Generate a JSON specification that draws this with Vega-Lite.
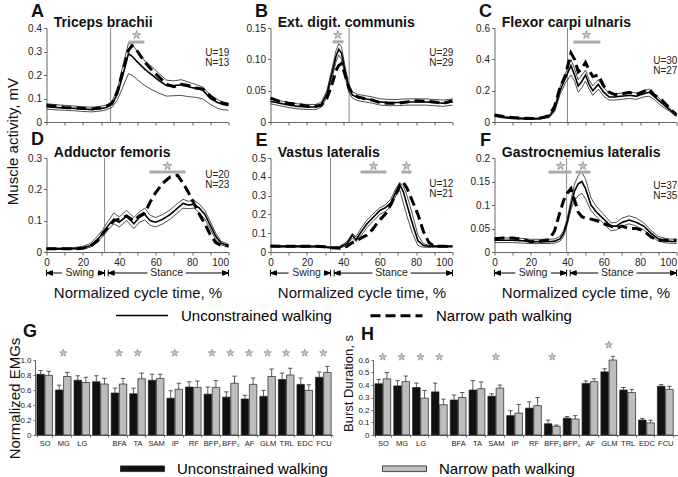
{
"$schema":"https://vega.github.io/schema/vega-lite/v6.json",
"padding":{"left":4,"top":3,"right":2,"bottom":2},
"config":{"font":"Liberation Sans","view":{"stroke":null},
"axis":{"grid":false,"labelFontSize":10,"labelColor":"#222","domainColor":"#666","tickColor":"#666","tickSize":3,"labelPadding":2,"labelFlush":false,"labelOverlap":false,"labelSeparation":-30,"titleFontWeight":"normal","titleFontSize":15,"titleColor":"#111"}},
"spacing":23,
"center":true,
"vconcat":[
{"spacing":11,"hconcat":[
{"bounds":"flush","spacing":36,"vconcat":[
{"width":182,"height":94,"resolve":{"axis":{"x":"independent","y":"independent"}},
"data":{"values":[{"x":0,"u":0.065,"hi":0.078,"lo":0.055,"n":0.07},{"x":5,"u":0.062,"hi":0.074,"lo":0.052,"n":0.068},{"x":10,"u":0.06,"hi":0.071,"lo":0.05,"n":0.062},{"x":15,"u":0.058,"hi":0.068,"lo":0.048,"n":0.06},{"x":20,"u":0.055,"hi":0.065,"lo":0.045,"n":0.058},{"x":25,"u":0.053,"hi":0.063,"lo":0.043,"n":0.055},{"x":30,"u":0.057,"hi":0.067,"lo":0.047,"n":0.06},{"x":33,"u":0.062,"hi":0.072,"lo":0.052,"n":0.067},{"x":36,"u":0.075,"hi":0.088,"lo":0.062,"n":0.08},{"x":39,"u":0.12,"hi":0.14,"lo":0.095,"n":0.13},{"x":42,"u":0.2,"hi":0.24,"lo":0.15,"n":0.22},{"x":45,"u":0.29,"hi":0.335,"lo":0.205,"n":0.305},{"x":47,"u":0.28,"hi":0.33,"lo":0.2,"n":0.325},{"x":50,"u":0.255,"hi":0.3,"lo":0.18,"n":0.3},{"x":54,"u":0.225,"hi":0.26,"lo":0.155,"n":0.255},{"x":58,"u":0.2,"hi":0.235,"lo":0.137,"n":0.22},{"x":62,"u":0.175,"hi":0.205,"lo":0.122,"n":0.19},{"x":66,"u":0.155,"hi":0.178,"lo":0.11,"n":0.16},{"x":70,"u":0.155,"hi":0.175,"lo":0.112,"n":0.15},{"x":74,"u":0.158,"hi":0.18,"lo":0.113,"n":0.16},{"x":78,"u":0.15,"hi":0.17,"lo":0.108,"n":0.155},{"x":82,"u":0.143,"hi":0.16,"lo":0.105,"n":0.145},{"x":86,"u":0.135,"hi":0.148,"lo":0.098,"n":0.14},{"x":90,"u":0.1,"hi":0.115,"lo":0.075,"n":0.11},{"x":94,"u":0.083,"hi":0.095,"lo":0.058,"n":0.088},{"x":97,"u":0.075,"hi":0.085,"lo":0.052,"n":0.08},{"x":100,"u":0.07,"hi":0.08,"lo":0.05,"n":0.075}]},
"layer":[
{"mark":{"type":"line","color":"#222","strokeWidth":0.8},"encoding":{"x":{"field":"x","type":"quantitative","scale":{"domain":[0,100],"nice":false},"axis":{"values":[0,10,20,30,40,50,60,70,80,90,100],"labels":false,"title":null,"labelOverlap":false}},"y":{"field":"hi","type":"quantitative","scale":{"domain":[0,0.4],"nice":false},"axis":{"values":[0,0.1,0.2,0.3,0.4],"format":"~g","title":null,"labelOverlap":false}}}},
{"data":{"values":[{}]},"mark":{"type":"rule","color":"#888","strokeWidth":1},"encoding":{"x":{"datum":35.2,"type":"quantitative","axis":null},"y":{"datum":0,"type":"quantitative","axis":null},"y2":{"datum":0.4}}},
{"mark":{"type":"line","color":"#222","strokeWidth":0.8},"encoding":{"x":{"field":"x","type":"quantitative","axis":null},"y":{"field":"lo","type":"quantitative","axis":null}}},
{"transform":[{"fold":["u","n"],"as":["series","v"]}],"mark":{"type":"line","color":"black"},"encoding":{"x":{"field":"x","type":"quantitative","axis":null},"y":{"field":"v","type":"quantitative","axis":null},
"strokeDash":{"field":"series","type":"nominal","scale":{"domain":["u","n"],"range":[[1,0],[10,5]]},"legend":{"orient":"none","legendX":80,"legendY":260,"direction":"horizontal","title":null,"symbolType":"stroke","symbolSize":2704,"symbolStrokeColor":"black","labelFontSize":15,"labelColor":"black","labelOffset":12,"columnPadding":32,"labelLimit":300,"labelExpr":"datum.value == 'u' ? 'Unconstrained walking' : 'Narrow path walking'"}},
"strokeWidth":{"field":"series","type":"nominal","scale":{"domain":["u","n"],"range":[1.6,3]},"legend":{"orient":"none","legendX":80,"legendY":260,"direction":"horizontal","title":null,"symbolType":"stroke","symbolSize":2704,"symbolStrokeColor":"black","labelFontSize":15,"labelColor":"black","labelOffset":12,"columnPadding":32,"labelLimit":300,"labelExpr":"datum.value == 'u' ? 'Unconstrained walking' : 'Narrow path walking'"}}}},
{"data":{"values":[{"x":45,"x2":53.8}]},"mark":{"type":"rule","color":"#aaa","strokeWidth":3},"encoding":{"x":{"field":"x","type":"quantitative","axis":null},"x2":{"field":"x2"},"y":{"datum":0.34,"type":"quantitative","axis":null}}},
{"data":{"values":[{"x":49.5}]},"mark":{"type":"point","shape":"M0,-1L0.2245,-0.309L0.951,-0.309L0.363,0.118L0.588,0.809L0,0.382L-0.588,0.809L-0.363,0.118L-0.951,-0.309L-0.2245,-0.309Z","size":80,"filled":true,"fill":"#c8c8c8","stroke":"#888","strokeWidth":0.7,"opacity":1},"encoding":{"x":{"field":"x","type":"quantitative","axis":null},"y":{"datum":0.37,"type":"quantitative","axis":null}}},
{"data":{"values":[{}]},"mark":{"type":"text","text":["U=19","N=13"],"align":"right","baseline":"alphabetic","fontSize":10,"lineHeight":10,"color":"#222"},"encoding":{"x":{"datum":100.5,"type":"quantitative","axis":null},"y":{"datum":0.282,"type":"quantitative","axis":null}}},
{"data":{"values":[{}]},"mark":{"type":"text","text":"Triceps brachii","align":"left","baseline":"alphabetic","fontSize":14,"fontWeight":"bold","color":"#111"},"encoding":{"x":{"datum":4,"type":"quantitative","axis":null},"y":{"datum":0.404,"type":"quantitative","axis":null}}},
{"data":{"values":[{}]},"mark":{"type":"text","text":"A","align":"center","baseline":"middle","fontSize":18,"fontWeight":"bold","color":"#111"},"encoding":{"x":{"datum":-5,"type":"quantitative","axis":null},"y":{"datum":0.468,"type":"quantitative","axis":null}}}
]},
{"width":182,"height":94,"resolve":{"axis":{"x":"independent","y":"independent"}},
"data":{"values":[{"x":0,"u":0.01,"hi":0.013,"lo":0.008,"n":0.01},{"x":5,"u":0.01,"hi":0.013,"lo":0.008,"n":0.01},{"x":10,"u":0.01,"hi":0.013,"lo":0.008,"n":0.01},{"x":15,"u":0.011,"hi":0.014,"lo":0.009,"n":0.01},{"x":20,"u":0.013,"hi":0.018,"lo":0.01,"n":0.012},{"x":24,"u":0.02,"hi":0.027,"lo":0.015,"n":0.018},{"x":28,"u":0.04,"hi":0.05,"lo":0.032,"n":0.035},{"x":31,"u":0.06,"hi":0.072,"lo":0.05,"n":0.06},{"x":34,"u":0.085,"hi":0.1,"lo":0.072,"n":0.08},{"x":37,"u":0.105,"hi":0.125,"lo":0.09,"n":0.1},{"x":40,"u":0.095,"hi":0.112,"lo":0.08,"n":0.105},{"x":44,"u":0.115,"hi":0.133,"lo":0.1,"n":0.115},{"x":48,"u":0.09,"hi":0.11,"lo":0.075,"n":0.1},{"x":51,"u":0.11,"hi":0.128,"lo":0.095,"n":0.115},{"x":54,"u":0.12,"hi":0.14,"lo":0.102,"n":0.125},{"x":57,"u":0.1,"hi":0.117,"lo":0.085,"n":0.16},{"x":60,"u":0.095,"hi":0.11,"lo":0.08,"n":0.19},{"x":64,"u":0.105,"hi":0.12,"lo":0.09,"n":0.22},{"x":68,"u":0.12,"hi":0.135,"lo":0.105,"n":0.24},{"x":72,"u":0.14,"hi":0.155,"lo":0.125,"n":0.245},{"x":75,"u":0.155,"hi":0.168,"lo":0.14,"n":0.22},{"x":78,"u":0.15,"hi":0.162,"lo":0.138,"n":0.19},{"x":81,"u":0.152,"hi":0.165,"lo":0.14,"n":0.155},{"x":84,"u":0.14,"hi":0.153,"lo":0.125,"n":0.12},{"x":87,"u":0.12,"hi":0.133,"lo":0.105,"n":0.09},{"x":90,"u":0.085,"hi":0.097,"lo":0.073,"n":0.055},{"x":93,"u":0.05,"hi":0.06,"lo":0.04,"n":0.03},{"x":96,"u":0.028,"hi":0.034,"lo":0.022,"n":0.02},{"x":100,"u":0.02,"hi":0.024,"lo":0.016,"n":0.02}]},
"layer":[
{"mark":{"type":"line","color":"#222","strokeWidth":0.8},"encoding":{"x":{"field":"x","type":"quantitative","scale":{"domain":[0,100],"nice":false},"axis":{"values":[0,10,20,30,40,50,60,70,80,90,100],"labelExpr":"datum.value % 20 == 0 ? datum.label : ''","labelAlign":{"condition":{"test":"datum.value == 100","value":"right"},"value":"center"},"labelOverlap":false,"title":"Normalized cycle time, %","titleX":91,"titleY":45,"titleBaseline":"alphabetic"}},"y":{"field":"hi","type":"quantitative","scale":{"domain":[0,0.3],"nice":false},"axis":{"values":[0,0.1,0.2,0.3],"format":"~g","labelOverlap":false,"title":"Muscle activity, mV","titleX":-34.5,"titleY":-17,"titleAngle":270,"titleBaseline":"middle","titleAlign":"center"}}}},
{"data":{"values":[{}]},"mark":{"type":"rule","color":"#888","strokeWidth":1},"encoding":{"x":{"datum":31.9,"type":"quantitative","axis":null},"y":{"datum":0,"type":"quantitative","axis":null},"y2":{"datum":0.3}}},
{"mark":{"type":"line","color":"#222","strokeWidth":0.8},"encoding":{"x":{"field":"x","type":"quantitative","axis":null},"y":{"field":"lo","type":"quantitative","axis":null}}},
{"transform":[{"fold":["u","n"],"as":["series","v"]}],"mark":{"type":"line","color":"black"},"encoding":{"x":{"field":"x","type":"quantitative","axis":null},"y":{"field":"v","type":"quantitative","axis":null},
"strokeDash":{"field":"series","type":"nominal","scale":{"domain":["u","n"],"range":[[1,0],[10,5]]},"legend":{"orient":"none","legendX":80,"legendY":260,"direction":"horizontal","title":null,"symbolType":"stroke","symbolSize":2704,"symbolStrokeColor":"black","labelFontSize":15,"labelColor":"black","labelOffset":12,"columnPadding":32,"labelLimit":300,"labelExpr":"datum.value == 'u' ? 'Unconstrained walking' : 'Narrow path walking'"}},
"strokeWidth":{"field":"series","type":"nominal","scale":{"domain":["u","n"],"range":[1.6,3]},"legend":{"orient":"none","legendX":80,"legendY":260,"direction":"horizontal","title":null,"symbolType":"stroke","symbolSize":2704,"symbolStrokeColor":"black","labelFontSize":15,"labelColor":"black","labelOffset":12,"columnPadding":32,"labelLimit":300,"labelExpr":"datum.value == 'u' ? 'Unconstrained walking' : 'Narrow path walking'"}}}},
{"data":{"values":[{"x":56.6,"x2":76.4}]},"mark":{"type":"rule","color":"#aaa","strokeWidth":3},"encoding":{"x":{"field":"x","type":"quantitative","axis":null},"x2":{"field":"x2"},"y":{"datum":0.255,"type":"quantitative","axis":null}}},
{"data":{"values":[{"x":66.5}]},"mark":{"type":"point","shape":"M0,-1L0.2245,-0.309L0.951,-0.309L0.363,0.118L0.588,0.809L0,0.382L-0.588,0.809L-0.363,0.118L-0.951,-0.309L-0.2245,-0.309Z","size":80,"filled":true,"fill":"#c8c8c8","stroke":"#888","strokeWidth":0.7,"opacity":1},"encoding":{"x":{"field":"x","type":"quantitative","axis":null},"y":{"datum":0.2745,"type":"quantitative","axis":null}}},
{"data":{"values":[{}]},"mark":{"type":"text","text":["U=20","N=23"],"align":"right","baseline":"alphabetic","fontSize":10,"lineHeight":10,"color":"#222"},"encoding":{"x":{"datum":100.5,"type":"quantitative","axis":null},"y":{"datum":0.237,"type":"quantitative","axis":null}}},
{"data":{"values":[{}]},"mark":{"type":"text","text":"Adductor femoris","align":"left","baseline":"alphabetic","fontSize":14,"fontWeight":"bold","color":"#111"},"encoding":{"x":{"datum":4,"type":"quantitative","axis":null},"y":{"datum":0.303,"type":"quantitative","axis":null}}},
{"data":{"values":[{}]},"mark":{"type":"text","text":"D","align":"center","baseline":"middle","fontSize":18,"fontWeight":"bold","color":"#111"},"encoding":{"x":{"datum":-5,"type":"quantitative","axis":null},"y":{"datum":0.356,"type":"quantitative","axis":null}}},
{"data":{"values":[{"x":0,"x2":8.5},{"x":28,"x2":31.9},{"x":33.9,"x2":55.5},{"x":76.5,"x2":100}]},"mark":{"type":"rule","color":"black","strokeWidth":1},"encoding":{"x":{"field":"x","type":"quantitative","axis":null},"x2":{"field":"x2"},"y":{"datum":-0.067,"type":"quantitative","axis":null}}},
{"data":{"values":[{"x":0,"dir":"L"},{"x":31.9,"dir":"R"},{"x":33.9,"dir":"L"},{"x":100,"dir":"R"}]},"mark":{"type":"point","filled":true,"color":"black","stroke":"black","strokeWidth":1,"size":36,"opacity":1},"encoding":{"x":{"field":"x","type":"quantitative","axis":null},"y":{"datum":-0.067,"type":"quantitative","axis":null},"shape":{"field":"dir","type":"nominal","scale":{"domain":["L","R"],"range":["M0,-1.1L0,1.1M0,0L2,-0.75L2,0.75Z","M0,-1.1L0,1.1M0,0L-2,-0.75L-2,0.75Z"]},"legend":null}}},
{"data":{"values":[{"t":"Swing","x":18.3},{"t":"Stance","x":66}]},"mark":{"type":"text","fontSize":10.5,"baseline":"middle","align":"center","color":"#222"},"encoding":{"x":{"field":"x","type":"quantitative","axis":null},"y":{"datum":-0.067,"type":"quantitative","axis":null},"text":{"field":"t"}}}
]}
]},
{"bounds":"flush","spacing":36,"vconcat":[
{"width":182,"height":94,"resolve":{"axis":{"x":"independent","y":"independent"}},
"data":{"values":[{"x":0,"u":0.033,"hi":0.037,"lo":0.029,"n":0.038},{"x":5,"u":0.03,"hi":0.034,"lo":0.026,"n":0.033},{"x":10,"u":0.027,"hi":0.031,"lo":0.023,"n":0.03},{"x":15,"u":0.025,"hi":0.029,"lo":0.021,"n":0.028},{"x":20,"u":0.024,"hi":0.028,"lo":0.02,"n":0.025},{"x":25,"u":0.024,"hi":0.028,"lo":0.02,"n":0.025},{"x":28,"u":0.028,"hi":0.032,"lo":0.024,"n":0.027},{"x":31,"u":0.045,"hi":0.05,"lo":0.04,"n":0.038},{"x":34,"u":0.08,"hi":0.088,"lo":0.072,"n":0.062},{"x":36,"u":0.105,"hi":0.114,"lo":0.096,"n":0.082},{"x":37.5,"u":0.116,"hi":0.125,"lo":0.107,"n":0.09},{"x":39,"u":0.11,"hi":0.12,"lo":0.1,"n":0.093},{"x":41,"u":0.08,"hi":0.088,"lo":0.072,"n":0.075},{"x":43,"u":0.055,"hi":0.062,"lo":0.048,"n":0.055},{"x":45,"u":0.043,"hi":0.048,"lo":0.038,"n":0.045},{"x":48,"u":0.039,"hi":0.044,"lo":0.034,"n":0.04},{"x":52,"u":0.037,"hi":0.042,"lo":0.032,"n":0.037},{"x":56,"u":0.035,"hi":0.04,"lo":0.03,"n":0.035},{"x":60,"u":0.032,"hi":0.037,"lo":0.027,"n":0.031},{"x":65,"u":0.031,"hi":0.036,"lo":0.026,"n":0.03},{"x":70,"u":0.031,"hi":0.036,"lo":0.026,"n":0.03},{"x":75,"u":0.032,"hi":0.037,"lo":0.027,"n":0.032},{"x":80,"u":0.032,"hi":0.037,"lo":0.027,"n":0.034},{"x":85,"u":0.032,"hi":0.037,"lo":0.027,"n":0.033},{"x":90,"u":0.031,"hi":0.036,"lo":0.026,"n":0.032},{"x":95,"u":0.03,"hi":0.035,"lo":0.025,"n":0.03},{"x":100,"u":0.032,"hi":0.037,"lo":0.027,"n":0.034}]},
"layer":[
{"mark":{"type":"line","color":"#222","strokeWidth":0.8},"encoding":{"x":{"field":"x","type":"quantitative","scale":{"domain":[0,100],"nice":false},"axis":{"values":[0,10,20,30,40,50,60,70,80,90,100],"labels":false,"title":null,"labelOverlap":false}},"y":{"field":"hi","type":"quantitative","scale":{"domain":[0,0.15],"nice":false},"axis":{"values":[0,0.05,0.1,0.15],"format":".2f","labelExpr":"datum.value == 0 ? '0' : datum.label","title":null,"labelOverlap":false}}}},
{"data":{"values":[{}]},"mark":{"type":"rule","color":"#888","strokeWidth":1},"encoding":{"x":{"datum":43.2,"type":"quantitative","axis":null},"y":{"datum":0,"type":"quantitative","axis":null},"y2":{"datum":0.15}}},
{"mark":{"type":"line","color":"#222","strokeWidth":0.8},"encoding":{"x":{"field":"x","type":"quantitative","axis":null},"y":{"field":"lo","type":"quantitative","axis":null}}},
{"transform":[{"fold":["u","n"],"as":["series","v"]}],"mark":{"type":"line","color":"black"},"encoding":{"x":{"field":"x","type":"quantitative","axis":null},"y":{"field":"v","type":"quantitative","axis":null},
"strokeDash":{"field":"series","type":"nominal","scale":{"domain":["u","n"],"range":[[1,0],[10,5]]},"legend":{"orient":"none","legendX":80,"legendY":260,"direction":"horizontal","title":null,"symbolType":"stroke","symbolSize":2704,"symbolStrokeColor":"black","labelFontSize":15,"labelColor":"black","labelOffset":12,"columnPadding":32,"labelLimit":300,"labelExpr":"datum.value == 'u' ? 'Unconstrained walking' : 'Narrow path walking'"}},
"strokeWidth":{"field":"series","type":"nominal","scale":{"domain":["u","n"],"range":[1.6,3]},"legend":{"orient":"none","legendX":80,"legendY":260,"direction":"horizontal","title":null,"symbolType":"stroke","symbolSize":2704,"symbolStrokeColor":"black","labelFontSize":15,"labelColor":"black","labelOffset":12,"columnPadding":32,"labelLimit":300,"labelExpr":"datum.value == 'u' ? 'Unconstrained walking' : 'Narrow path walking'"}}}},
{"data":{"values":[{"x":34.1,"x2":40.1}]},"mark":{"type":"rule","color":"#aaa","strokeWidth":3},"encoding":{"x":{"field":"x","type":"quantitative","axis":null},"x2":{"field":"x2"},"y":{"datum":0.128,"type":"quantitative","axis":null}}},
{"data":{"values":[{"x":37}]},"mark":{"type":"point","shape":"M0,-1L0.2245,-0.309L0.951,-0.309L0.363,0.118L0.588,0.809L0,0.382L-0.588,0.809L-0.363,0.118L-0.951,-0.309L-0.2245,-0.309Z","size":80,"filled":true,"fill":"#c8c8c8","stroke":"#888","strokeWidth":0.7,"opacity":1},"encoding":{"x":{"field":"x","type":"quantitative","axis":null},"y":{"datum":0.139,"type":"quantitative","axis":null}}},
{"data":{"values":[{}]},"mark":{"type":"text","text":["U=29","N=29"],"align":"right","baseline":"alphabetic","fontSize":10,"lineHeight":10,"color":"#222"},"encoding":{"x":{"datum":100.5,"type":"quantitative","axis":null},"y":{"datum":0.106,"type":"quantitative","axis":null}}},
{"data":{"values":[{}]},"mark":{"type":"text","text":"Ext. digit. communis","align":"left","baseline":"alphabetic","fontSize":14,"fontWeight":"bold","color":"#111"},"encoding":{"x":{"datum":4,"type":"quantitative","axis":null},"y":{"datum":0.1515,"type":"quantitative","axis":null}}},
{"data":{"values":[{}]},"mark":{"type":"text","text":"B","align":"center","baseline":"middle","fontSize":18,"fontWeight":"bold","color":"#111"},"encoding":{"x":{"datum":-5,"type":"quantitative","axis":null},"y":{"datum":0.1755,"type":"quantitative","axis":null}}}
]},
{"width":182,"height":94,"resolve":{"axis":{"x":"independent","y":"independent"}},
"data":{"values":[{"x":0,"u":0.03,"hi":0.035,"lo":0.026,"n":0.032},{"x":5,"u":0.03,"hi":0.034,"lo":0.026,"n":0.03},{"x":10,"u":0.03,"hi":0.034,"lo":0.026,"n":0.031},{"x":15,"u":0.03,"hi":0.034,"lo":0.026,"n":0.03},{"x":20,"u":0.029,"hi":0.033,"lo":0.025,"n":0.03},{"x":25,"u":0.029,"hi":0.033,"lo":0.025,"n":0.03},{"x":30,"u":0.027,"hi":0.031,"lo":0.023,"n":0.028},{"x":34,"u":0.022,"hi":0.026,"lo":0.019,"n":0.022},{"x":38,"u":0.025,"hi":0.03,"lo":0.02,"n":0.02},{"x":42,"u":0.045,"hi":0.055,"lo":0.035,"n":0.03},{"x":45,"u":0.09,"hi":0.1,"lo":0.075,"n":0.05},{"x":47,"u":0.065,"hi":0.08,"lo":0.055,"n":0.06},{"x":50,"u":0.11,"hi":0.13,"lo":0.09,"n":0.075},{"x":53,"u":0.15,"hi":0.17,"lo":0.13,"n":0.09},{"x":56,"u":0.18,"hi":0.2,"lo":0.16,"n":0.12},{"x":60,"u":0.22,"hi":0.235,"lo":0.2,"n":0.17},{"x":63,"u":0.235,"hi":0.25,"lo":0.215,"n":0.2},{"x":66,"u":0.26,"hi":0.28,"lo":0.24,"n":0.25},{"x":69,"u":0.32,"hi":0.34,"lo":0.3,"n":0.31},{"x":71,"u":0.36,"hi":0.37,"lo":0.33,"n":0.35},{"x":73,"u":0.32,"hi":0.35,"lo":0.26,"n":0.37},{"x":75,"u":0.25,"hi":0.3,"lo":0.19,"n":0.34},{"x":78,"u":0.15,"hi":0.2,"lo":0.1,"n":0.27},{"x":81,"u":0.06,"hi":0.09,"lo":0.035,"n":0.2},{"x":84,"u":0.035,"hi":0.045,"lo":0.025,"n":0.11},{"x":87,"u":0.03,"hi":0.035,"lo":0.025,"n":0.05},{"x":90,"u":0.03,"hi":0.034,"lo":0.026,"n":0.03},{"x":95,"u":0.03,"hi":0.034,"lo":0.026,"n":0.03},{"x":100,"u":0.03,"hi":0.034,"lo":0.026,"n":0.028}]},
"layer":[
{"mark":{"type":"line","color":"#222","strokeWidth":0.8},"encoding":{"x":{"field":"x","type":"quantitative","scale":{"domain":[0,100],"nice":false},"axis":{"values":[0,10,20,30,40,50,60,70,80,90,100],"labelExpr":"datum.value % 20 == 0 ? datum.label : ''","labelAlign":{"condition":{"test":"datum.value == 100","value":"right"},"value":"center"},"labelOverlap":false,"title":"Normalized cycle time, %","titleX":91,"titleY":45,"titleBaseline":"alphabetic"}},"y":{"field":"hi","type":"quantitative","scale":{"domain":[0,0.5],"nice":false},"axis":{"values":[0,0.1,0.2,0.3,0.4,0.5],"format":"~g","title":null,"labelOverlap":false}}}},
{"data":{"values":[{}]},"mark":{"type":"rule","color":"#888","strokeWidth":1},"encoding":{"x":{"datum":33,"type":"quantitative","axis":null},"y":{"datum":0,"type":"quantitative","axis":null},"y2":{"datum":0.5}}},
{"mark":{"type":"line","color":"#222","strokeWidth":0.8},"encoding":{"x":{"field":"x","type":"quantitative","axis":null},"y":{"field":"lo","type":"quantitative","axis":null}}},
{"transform":[{"fold":["u","n"],"as":["series","v"]}],"mark":{"type":"line","color":"black"},"encoding":{"x":{"field":"x","type":"quantitative","axis":null},"y":{"field":"v","type":"quantitative","axis":null},
"strokeDash":{"field":"series","type":"nominal","scale":{"domain":["u","n"],"range":[[1,0],[10,5]]},"legend":{"orient":"none","legendX":80,"legendY":260,"direction":"horizontal","title":null,"symbolType":"stroke","symbolSize":2704,"symbolStrokeColor":"black","labelFontSize":15,"labelColor":"black","labelOffset":12,"columnPadding":32,"labelLimit":300,"labelExpr":"datum.value == 'u' ? 'Unconstrained walking' : 'Narrow path walking'"}},
"strokeWidth":{"field":"series","type":"nominal","scale":{"domain":["u","n"],"range":[1.6,3]},"legend":{"orient":"none","legendX":80,"legendY":260,"direction":"horizontal","title":null,"symbolType":"stroke","symbolSize":2704,"symbolStrokeColor":"black","labelFontSize":15,"labelColor":"black","labelOffset":12,"columnPadding":32,"labelLimit":300,"labelExpr":"datum.value == 'u' ? 'Unconstrained walking' : 'Narrow path walking'"}}}},
{"data":{"values":[{"x":49.5,"x2":63.7},{"x":72,"x2":77.5}]},"mark":{"type":"rule","color":"#aaa","strokeWidth":3},"encoding":{"x":{"field":"x","type":"quantitative","axis":null},"x2":{"field":"x2"},"y":{"datum":0.4255,"type":"quantitative","axis":null}}},
{"data":{"values":[{"x":56.6},{"x":74.7}]},"mark":{"type":"point","shape":"M0,-1L0.2245,-0.309L0.951,-0.309L0.363,0.118L0.588,0.809L0,0.382L-0.588,0.809L-0.363,0.118L-0.951,-0.309L-0.2245,-0.309Z","size":80,"filled":true,"fill":"#c8c8c8","stroke":"#888","strokeWidth":0.7,"opacity":1},"encoding":{"x":{"field":"x","type":"quantitative","axis":null},"y":{"datum":0.4575,"type":"quantitative","axis":null}}},
{"data":{"values":[{}]},"mark":{"type":"text","text":["U=12","N=21"],"align":"right","baseline":"alphabetic","fontSize":10,"lineHeight":10,"color":"#222"},"encoding":{"x":{"datum":100.5,"type":"quantitative","axis":null},"y":{"datum":0.346,"type":"quantitative","axis":null}}},
{"data":{"values":[{}]},"mark":{"type":"text","text":"Vastus lateralis","align":"left","baseline":"alphabetic","fontSize":14,"fontWeight":"bold","color":"#111"},"encoding":{"x":{"datum":4,"type":"quantitative","axis":null},"y":{"datum":0.505,"type":"quantitative","axis":null}}},
{"data":{"values":[{}]},"mark":{"type":"text","text":"E","align":"center","baseline":"middle","fontSize":18,"fontWeight":"bold","color":"#111"},"encoding":{"x":{"datum":-5,"type":"quantitative","axis":null},"y":{"datum":0.593,"type":"quantitative","axis":null}}},
{"data":{"values":[{"x":0,"x2":10},{"x":29.5,"x2":33},{"x":35,"x2":56},{"x":77,"x2":100}]},"mark":{"type":"rule","color":"black","strokeWidth":1},"encoding":{"x":{"field":"x","type":"quantitative","axis":null},"x2":{"field":"x2"},"y":{"datum":-0.112,"type":"quantitative","axis":null}}},
{"data":{"values":[{"x":0,"dir":"L"},{"x":33,"dir":"R"},{"x":35,"dir":"L"},{"x":100,"dir":"R"}]},"mark":{"type":"point","filled":true,"color":"black","stroke":"black","strokeWidth":1,"size":36,"opacity":1},"encoding":{"x":{"field":"x","type":"quantitative","axis":null},"y":{"datum":-0.112,"type":"quantitative","axis":null},"shape":{"field":"dir","type":"nominal","scale":{"domain":["L","R"],"range":["M0,-1.1L0,1.1M0,0L2,-0.75L2,0.75Z","M0,-1.1L0,1.1M0,0L-2,-0.75L-2,0.75Z"]},"legend":null}}},
{"data":{"values":[{"t":"Swing","x":19.8},{"t":"Stance","x":66.5}]},"mark":{"type":"text","fontSize":10.5,"baseline":"middle","align":"center","color":"#222"},"encoding":{"x":{"field":"x","type":"quantitative","axis":null},"y":{"datum":-0.112,"type":"quantitative","axis":null},"text":{"field":"t"}}}
]}
]},
{"bounds":"flush","spacing":36,"vconcat":[
{"width":182,"height":94,"resolve":{"axis":{"x":"independent","y":"independent"}},
"data":{"values":[{"x":0,"u":0.04,"hi":0.045,"lo":0.035,"n":0.045},{"x":5,"u":0.03,"hi":0.035,"lo":0.025,"n":0.035},{"x":10,"u":0.025,"hi":0.03,"lo":0.02,"n":0.028},{"x":15,"u":0.022,"hi":0.027,"lo":0.018,"n":0.025},{"x":20,"u":0.02,"hi":0.025,"lo":0.016,"n":0.022},{"x":25,"u":0.022,"hi":0.027,"lo":0.018,"n":0.025},{"x":30,"u":0.035,"hi":0.042,"lo":0.028,"n":0.04},{"x":33,"u":0.08,"hi":0.095,"lo":0.065,"n":0.1},{"x":36,"u":0.2,"hi":0.225,"lo":0.175,"n":0.22},{"x":39,"u":0.28,"hi":0.31,"lo":0.25,"n":0.3},{"x":42,"u":0.36,"hi":0.4,"lo":0.3,"n":0.44},{"x":44,"u":0.3,"hi":0.34,"lo":0.26,"n":0.4},{"x":46,"u":0.23,"hi":0.27,"lo":0.19,"n":0.32},{"x":48,"u":0.26,"hi":0.3,"lo":0.22,"n":0.34},{"x":50,"u":0.3,"hi":0.33,"lo":0.26,"n":0.38},{"x":52,"u":0.24,"hi":0.27,"lo":0.21,"n":0.33},{"x":54,"u":0.2,"hi":0.23,"lo":0.17,"n":0.29},{"x":57,"u":0.24,"hi":0.27,"lo":0.21,"n":0.3},{"x":60,"u":0.19,"hi":0.22,"lo":0.165,"n":0.23},{"x":63,"u":0.16,"hi":0.185,"lo":0.14,"n":0.19},{"x":66,"u":0.16,"hi":0.18,"lo":0.14,"n":0.175},{"x":70,"u":0.165,"hi":0.185,"lo":0.145,"n":0.18},{"x":74,"u":0.17,"hi":0.19,"lo":0.15,"n":0.19},{"x":78,"u":0.165,"hi":0.185,"lo":0.145,"n":0.175},{"x":82,"u":0.18,"hi":0.2,"lo":0.16,"n":0.195},{"x":85,"u":0.19,"hi":0.21,"lo":0.165,"n":0.21},{"x":88,"u":0.16,"hi":0.18,"lo":0.14,"n":0.17},{"x":92,"u":0.12,"hi":0.135,"lo":0.1,"n":0.14},{"x":96,"u":0.08,"hi":0.09,"lo":0.07,"n":0.09},{"x":100,"u":0.04,"hi":0.045,"lo":0.035,"n":0.045}]},
"layer":[
{"mark":{"type":"line","color":"#222","strokeWidth":0.8},"encoding":{"x":{"field":"x","type":"quantitative","scale":{"domain":[0,100],"nice":false},"axis":{"values":[0,10,20,30,40,50,60,70,80,90,100],"labels":false,"title":null,"labelOverlap":false}},"y":{"field":"hi","type":"quantitative","scale":{"domain":[0,0.6],"nice":false},"axis":{"values":[0,0.2,0.4,0.6],"format":"~g","title":null,"labelOverlap":false}}}},
{"data":{"values":[{}]},"mark":{"type":"rule","color":"#888","strokeWidth":1},"encoding":{"x":{"datum":40.1,"type":"quantitative","axis":null},"y":{"datum":0,"type":"quantitative","axis":null},"y2":{"datum":0.6}}},
{"mark":{"type":"line","color":"#222","strokeWidth":0.8},"encoding":{"x":{"field":"x","type":"quantitative","axis":null},"y":{"field":"lo","type":"quantitative","axis":null}}},
{"transform":[{"fold":["u","n"],"as":["series","v"]}],"mark":{"type":"line","color":"black"},"encoding":{"x":{"field":"x","type":"quantitative","axis":null},"y":{"field":"v","type":"quantitative","axis":null},
"strokeDash":{"field":"series","type":"nominal","scale":{"domain":["u","n"],"range":[[1,0],[10,5]]},"legend":{"orient":"none","legendX":80,"legendY":260,"direction":"horizontal","title":null,"symbolType":"stroke","symbolSize":2704,"symbolStrokeColor":"black","labelFontSize":15,"labelColor":"black","labelOffset":12,"columnPadding":32,"labelLimit":300,"labelExpr":"datum.value == 'u' ? 'Unconstrained walking' : 'Narrow path walking'"}},
"strokeWidth":{"field":"series","type":"nominal","scale":{"domain":["u","n"],"range":[1.6,3]},"legend":{"orient":"none","legendX":80,"legendY":260,"direction":"horizontal","title":null,"symbolType":"stroke","symbolSize":2704,"symbolStrokeColor":"black","labelFontSize":15,"labelColor":"black","labelOffset":12,"columnPadding":32,"labelLimit":300,"labelExpr":"datum.value == 'u' ? 'Unconstrained walking' : 'Narrow path walking'"}}}},
{"data":{"values":[{"x":43.4,"x2":58.2}]},"mark":{"type":"rule","color":"#aaa","strokeWidth":3},"encoding":{"x":{"field":"x","type":"quantitative","axis":null},"x2":{"field":"x2"},"y":{"datum":0.51,"type":"quantitative","axis":null}}},
{"data":{"values":[{"x":50.5}]},"mark":{"type":"point","shape":"M0,-1L0.2245,-0.309L0.951,-0.309L0.363,0.118L0.588,0.809L0,0.382L-0.588,0.809L-0.363,0.118L-0.951,-0.309L-0.2245,-0.309Z","size":80,"filled":true,"fill":"#c8c8c8","stroke":"#888","strokeWidth":0.7,"opacity":1},"encoding":{"x":{"field":"x","type":"quantitative","axis":null},"y":{"datum":0.556,"type":"quantitative","axis":null}}},
{"data":{"values":[{}]},"mark":{"type":"text","text":["U=30","N=27"],"align":"right","baseline":"alphabetic","fontSize":10,"lineHeight":10,"color":"#222"},"encoding":{"x":{"datum":100.5,"type":"quantitative","axis":null},"y":{"datum":0.373,"type":"quantitative","axis":null}}},
{"data":{"values":[{}]},"mark":{"type":"text","text":"Flexor carpi ulnaris","align":"left","baseline":"alphabetic","fontSize":14,"fontWeight":"bold","color":"#111"},"encoding":{"x":{"datum":4,"type":"quantitative","axis":null},"y":{"datum":0.606,"type":"quantitative","axis":null}}},
{"data":{"values":[{}]},"mark":{"type":"text","text":"C","align":"center","baseline":"middle","fontSize":18,"fontWeight":"bold","color":"#111"},"encoding":{"x":{"datum":-5,"type":"quantitative","axis":null},"y":{"datum":0.702,"type":"quantitative","axis":null}}}
]},
{"width":182,"height":94,"resolve":{"axis":{"x":"independent","y":"independent"}},
"data":{"values":[{"x":0,"u":0.025,"hi":0.03,"lo":0.02,"n":0.028},{"x":5,"u":0.025,"hi":0.03,"lo":0.02,"n":0.03},{"x":10,"u":0.025,"hi":0.03,"lo":0.02,"n":0.03},{"x":15,"u":0.024,"hi":0.029,"lo":0.019,"n":0.027},{"x":20,"u":0.022,"hi":0.027,"lo":0.018,"n":0.022},{"x":25,"u":0.022,"hi":0.027,"lo":0.018,"n":0.023},{"x":30,"u":0.022,"hi":0.027,"lo":0.018,"n":0.026},{"x":33,"u":0.023,"hi":0.028,"lo":0.019,"n":0.045},{"x":36,"u":0.028,"hi":0.033,"lo":0.023,"n":0.085},{"x":38,"u":0.04,"hi":0.046,"lo":0.034,"n":0.11},{"x":40,"u":0.065,"hi":0.072,"lo":0.058,"n":0.125},{"x":42,"u":0.1,"hi":0.11,"lo":0.09,"n":0.135},{"x":44,"u":0.13,"hi":0.145,"lo":0.11,"n":0.11},{"x":46,"u":0.145,"hi":0.163,"lo":0.12,"n":0.085},{"x":48,"u":0.15,"hi":0.17,"lo":0.125,"n":0.075},{"x":50,"u":0.135,"hi":0.155,"lo":0.113,"n":0.072},{"x":53,"u":0.1,"hi":0.115,"lo":0.088,"n":0.07},{"x":56,"u":0.085,"hi":0.097,"lo":0.075,"n":0.067},{"x":60,"u":0.07,"hi":0.08,"lo":0.06,"n":0.06},{"x":64,"u":0.055,"hi":0.062,"lo":0.045,"n":0.055},{"x":67,"u":0.055,"hi":0.063,"lo":0.047,"n":0.05},{"x":70,"u":0.063,"hi":0.072,"lo":0.055,"n":0.055},{"x":74,"u":0.068,"hi":0.077,"lo":0.06,"n":0.05},{"x":78,"u":0.063,"hi":0.072,"lo":0.055,"n":0.05},{"x":82,"u":0.055,"hi":0.062,"lo":0.047,"n":0.045},{"x":86,"u":0.04,"hi":0.046,"lo":0.034,"n":0.032},{"x":90,"u":0.028,"hi":0.033,"lo":0.023,"n":0.025},{"x":95,"u":0.023,"hi":0.028,"lo":0.019,"n":0.025},{"x":100,"u":0.022,"hi":0.027,"lo":0.018,"n":0.025}]},
"layer":[
{"mark":{"type":"line","color":"#222","strokeWidth":0.8},"encoding":{"x":{"field":"x","type":"quantitative","scale":{"domain":[0,100],"nice":false},"axis":{"values":[0,10,20,30,40,50,60,70,80,90,100],"labelExpr":"datum.value % 20 == 0 ? datum.label : ''","labelAlign":{"condition":{"test":"datum.value == 100","value":"right"},"value":"center"},"labelOverlap":false,"title":"Normalized cycle time, %","titleX":91,"titleY":45,"titleBaseline":"alphabetic"}},"y":{"field":"hi","type":"quantitative","scale":{"domain":[0,0.2],"nice":false},"axis":{"values":[0,0.05,0.1,0.15,0.2],"format":"~g","title":null,"labelOverlap":false}}}},
{"data":{"values":[{}]},"mark":{"type":"rule","color":"#888","strokeWidth":1},"encoding":{"x":{"datum":39.6,"type":"quantitative","axis":null},"y":{"datum":0,"type":"quantitative","axis":null},"y2":{"datum":0.2}}},
{"mark":{"type":"line","color":"#222","strokeWidth":0.8},"encoding":{"x":{"field":"x","type":"quantitative","axis":null},"y":{"field":"lo","type":"quantitative","axis":null}}},
{"transform":[{"fold":["u","n"],"as":["series","v"]}],"mark":{"type":"line","color":"black"},"encoding":{"x":{"field":"x","type":"quantitative","axis":null},"y":{"field":"v","type":"quantitative","axis":null},
"strokeDash":{"field":"series","type":"nominal","scale":{"domain":["u","n"],"range":[[1,0],[10,5]]},"legend":{"orient":"none","legendX":80,"legendY":260,"direction":"horizontal","title":null,"symbolType":"stroke","symbolSize":2704,"symbolStrokeColor":"black","labelFontSize":15,"labelColor":"black","labelOffset":12,"columnPadding":32,"labelLimit":300,"labelExpr":"datum.value == 'u' ? 'Unconstrained walking' : 'Narrow path walking'"}},
"strokeWidth":{"field":"series","type":"nominal","scale":{"domain":["u","n"],"range":[1.6,3]},"legend":{"orient":"none","legendX":80,"legendY":260,"direction":"horizontal","title":null,"symbolType":"stroke","symbolSize":2704,"symbolStrokeColor":"black","labelFontSize":15,"labelColor":"black","labelOffset":12,"columnPadding":32,"labelLimit":300,"labelExpr":"datum.value == 'u' ? 'Unconstrained walking' : 'Narrow path walking'"}}}},
{"data":{"values":[{"x":29.7,"x2":42.3},{"x":44.5,"x2":52.7}]},"mark":{"type":"rule","color":"#aaa","strokeWidth":3},"encoding":{"x":{"field":"x","type":"quantitative","axis":null},"x2":{"field":"x2"},"y":{"datum":0.17,"type":"quantitative","axis":null}}},
{"data":{"values":[{"x":36.3},{"x":48.6}]},"mark":{"type":"point","shape":"M0,-1L0.2245,-0.309L0.951,-0.309L0.363,0.118L0.588,0.809L0,0.382L-0.588,0.809L-0.363,0.118L-0.951,-0.309L-0.2245,-0.309Z","size":80,"filled":true,"fill":"#c8c8c8","stroke":"#888","strokeWidth":0.7,"opacity":1},"encoding":{"x":{"field":"x","type":"quantitative","axis":null},"y":{"datum":0.183,"type":"quantitative","axis":null}}},
{"data":{"values":[{}]},"mark":{"type":"text","text":["U=37","N=35"],"align":"right","baseline":"alphabetic","fontSize":10,"lineHeight":10,"color":"#222"},"encoding":{"x":{"datum":100.5,"type":"quantitative","axis":null},"y":{"datum":0.133,"type":"quantitative","axis":null}}},
{"data":{"values":[{}]},"mark":{"type":"text","text":"Gastrocnemius lateralis","align":"left","baseline":"alphabetic","fontSize":14,"fontWeight":"bold","color":"#111"},"encoding":{"x":{"datum":4,"type":"quantitative","axis":null},"y":{"datum":0.202,"type":"quantitative","axis":null}}},
{"data":{"values":[{}]},"mark":{"type":"text","text":"F","align":"center","baseline":"middle","fontSize":18,"fontWeight":"bold","color":"#111"},"encoding":{"x":{"datum":-5,"type":"quantitative","axis":null},"y":{"datum":0.237,"type":"quantitative","axis":null}}},
{"data":{"values":[{"x":0,"x2":11.5},{"x":31,"x2":39.6},{"x":41.6,"x2":57},{"x":78,"x2":100}]},"mark":{"type":"rule","color":"black","strokeWidth":1},"encoding":{"x":{"field":"x","type":"quantitative","axis":null},"x2":{"field":"x2"},"y":{"datum":-0.0447,"type":"quantitative","axis":null}}},
{"data":{"values":[{"x":0,"dir":"L"},{"x":39.6,"dir":"R"},{"x":41.6,"dir":"L"},{"x":100,"dir":"R"}]},"mark":{"type":"point","filled":true,"color":"black","stroke":"black","strokeWidth":1,"size":36,"opacity":1},"encoding":{"x":{"field":"x","type":"quantitative","axis":null},"y":{"datum":-0.0447,"type":"quantitative","axis":null},"shape":{"field":"dir","type":"nominal","scale":{"domain":["L","R"],"range":["M0,-1.1L0,1.1M0,0L2,-0.75L2,0.75Z","M0,-1.1L0,1.1M0,0L-2,-0.75L-2,0.75Z"]},"legend":null}}},
{"data":{"values":[{"t":"Swing","x":21.2},{"t":"Stance","x":67.5}]},"mark":{"type":"text","fontSize":10.5,"baseline":"middle","align":"center","color":"#222"},"encoding":{"x":{"field":"x","type":"quantitative","axis":null},"y":{"datum":-0.0447,"type":"quantitative","axis":null},"text":{"field":"t"}}}
]}
]}
]},
{"spacing":8,"resolve":{"scale":{"xOffset":"independent"}},"hconcat":[
{"width":298,"height":75,"resolve":{"axis":{"x":"independent","y":"independent"}},
"title":{"text":"G","anchor":"start","frame":"group","dx":-12,"fontSize":18,"fontWeight":"bold","offset":-18,"baseline":"alphabetic","color":"#111"},
"data":{"values":[{"m":"SO","c":"U","v":0.81,"hi":0.86,"s":0},{"m":"SO","c":"N","v":0.795,"hi":0.85,"s":0},{"m":"MG","c":"U","v":0.6,"hi":0.665,"s":1},{"m":"MG","c":"N","v":0.78,"hi":0.835,"s":1},{"m":"LG","c":"U","v":0.73,"hi":0.79,"s":0},{"m":"LG","c":"N","v":0.7,"hi":0.77,"s":0},{"m":" ","c":"U","v":0.71,"hi":0.79,"s":0},{"m":" ","c":"N","v":0.68,"hi":0.755,"s":0},{"m":"BFA","c":"U","v":0.56,"hi":0.625,"s":1},{"m":"BFA","c":"N","v":0.68,"hi":0.755,"s":1},{"m":"TA","c":"U","v":0.55,"hi":0.625,"s":1},{"m":"TA","c":"N","v":0.75,"hi":0.825,"s":1},{"m":"SAM","c":"U","v":0.73,"hi":0.81,"s":0},{"m":"SAM","c":"N","v":0.755,"hi":0.81,"s":0},{"m":"IP","c":"U","v":0.49,"hi":0.59,"s":1},{"m":"IP","c":"N","v":0.61,"hi":0.69,"s":1},{"m":"RF","c":"U","v":0.64,"hi":0.71,"s":0},{"m":"RF","c":"N","v":0.635,"hi":0.72,"s":0},{"m":"BFP₁","c":"U","v":0.545,"hi":0.64,"s":1},{"m":"BFP₁","c":"N","v":0.635,"hi":0.725,"s":1},{"m":"BFP₂","c":"U","v":0.505,"hi":0.575,"s":1},{"m":"BFP₂","c":"N","v":0.69,"hi":0.785,"s":1},{"m":"AF","c":"U","v":0.48,"hi":0.53,"s":1},{"m":"AF","c":"N","v":0.675,"hi":0.76,"s":1},{"m":"GLM","c":"U","v":0.515,"hi":0.595,"s":1},{"m":"GLM","c":"N","v":0.78,"hi":0.88,"s":1},{"m":"TRL","c":"U","v":0.74,"hi":0.825,"s":1},{"m":"TRL","c":"N","v":0.8,"hi":0.89,"s":1},{"m":"EDC","c":"U","v":0.675,"hi":0.76,"s":1},{"m":"EDC","c":"N","v":0.595,"hi":0.67,"s":1},{"m":"FCU","c":"U","v":0.77,"hi":0.84,"s":1},{"m":"FCU","c":"N","v":0.835,"hi":0.915,"s":1}]},
"layer":[
{"mark":{"type":"bar","stroke":"#222","strokeWidth":0.7},"encoding":{
"x":{"field":"m","type":"nominal","scale":{"domain":["SO","MG","LG"," ","BFA","TA","SAM","IP","RF","BFP₁","BFP₂","AF","GLM","TRL","EDC","FCU"],"paddingInner":0.16,"paddingOuter":0.1},"axis":{"title":null,"labelAngle":0,"labelFontSize":7.5,"labelPadding":2,"tickSize":2,"tickBand":"extent","labelOverlap":false}},
"xOffset":{"field":"c","type":"nominal","scale":{"domain":["U","N"],"paddingInner":0.08}},
"y":{"field":"v","type":"quantitative","scale":{"domain":[0,1],"nice":false},"axis":{"values":[0,0.2,0.4,0.6,0.8,1],"format":".1f","labelExpr":"datum.value == 0 ? '0' : datum.label","labelFontSize":8,"tickSize":2,"labelOverlap":false,"title":"Normalized EMGs","titleX":-21,"titleY":38,"titleAngle":270,"titleBaseline":"middle","titleAlign":"center","titleFontSize":15}},
"fill":{"field":"c","type":"nominal","scale":{"domain":["U","N"],"range":["#111111","#bdbdbd"]},"legend":{"orient":"none","legendX":85,"legendY":418,"direction":"horizontal","title":null,"symbolType":"M-1,-0.13H1V0.13H-1Z","symbolSize":1936,"symbolStrokeColor":"#222","symbolStrokeWidth":0.8,"labelFontSize":15,"labelColor":"black","labelOffset":12,"columnPadding":52,"labelLimit":300,"labelExpr":"datum.value == 'U' ? 'Unconstrained walking' : 'Narrow path walking'"}}}},
{"mark":{"type":"rule","color":"#333","strokeWidth":0.8},"encoding":{"x":{"field":"m","type":"nominal","axis":null},"xOffset":{"field":"c","type":"nominal"},"y":{"field":"v","type":"quantitative","axis":null},"y2":{"field":"hi"}}},
{"mark":{"type":"point","shape":"stroke","size":20,"color":"#333","strokeWidth":0.8,"opacity":1},"encoding":{"x":{"field":"m","type":"nominal","axis":null},"xOffset":{"field":"c","type":"nominal"},"y":{"field":"hi","type":"quantitative","axis":null}}},
{"transform":[{"filter":"datum.s == 1 && datum.c == 'U'"}],"mark":{"type":"point","shape":"M0,-1L0.2245,-0.309L0.951,-0.309L0.363,0.118L0.588,0.809L0,0.382L-0.588,0.809L-0.363,0.118L-0.951,-0.309L-0.2245,-0.309Z","size":60,"filled":true,"fill":"#c8c8c8","stroke":"#888","strokeWidth":0.7,"opacity":1},"encoding":{"x":{"field":"m","type":"nominal","axis":null},"y":{"datum":1.093,"type":"quantitative","axis":null}}}
]},
{"width":321,"height":75,"resolve":{"axis":{"x":"independent","y":"independent"}},
"title":{"text":"H","anchor":"start","frame":"group","dx":-12,"fontSize":18,"fontWeight":"bold","offset":-23,"baseline":"alphabetic","color":"#111"},
"data":{"values":[{"m":"SO","c":"U","v":0.41,"hi":0.445,"s":1},{"m":"SO","c":"N","v":0.449,"hi":0.5,"s":1},{"m":"MG","c":"U","v":0.393,"hi":0.435,"s":1},{"m":"MG","c":"N","v":0.427,"hi":0.472,"s":1},{"m":"LG","c":"U","v":0.38,"hi":0.415,"s":1},{"m":"LG","c":"N","v":0.295,"hi":0.356,"s":1},{"m":" ","c":"U","v":0.345,"hi":0.415,"s":1},{"m":" ","c":"N","v":0.242,"hi":0.287,"s":1},{"m":"BFA","c":"U","v":0.28,"hi":0.32,"s":0},{"m":"BFA","c":"N","v":0.3,"hi":0.34,"s":0},{"m":"TA","c":"U","v":0.36,"hi":0.435,"s":0},{"m":"TA","c":"N","v":0.37,"hi":0.425,"s":0},{"m":"SAM","c":"U","v":0.31,"hi":0.33,"s":1},{"m":"SAM","c":"N","v":0.375,"hi":0.4,"s":1},{"m":"IP","c":"U","v":0.155,"hi":0.195,"s":0},{"m":"IP","c":"N","v":0.175,"hi":0.245,"s":0},{"m":"RF","c":"U","v":0.215,"hi":0.265,"s":0},{"m":"RF","c":"N","v":0.235,"hi":0.3,"s":0},{"m":"BFP₁","c":"U","v":0.09,"hi":0.12,"s":1},{"m":"BFP₁","c":"N","v":0.07,"hi":0.08,"s":1},{"m":"BFP₂","c":"U","v":0.135,"hi":0.148,"s":0},{"m":"BFP₂","c":"N","v":0.128,"hi":0.155,"s":0},{"m":"AF","c":"U","v":0.413,"hi":0.433,"s":0},{"m":"AF","c":"N","v":0.427,"hi":0.45,"s":0},{"m":"GLM","c":"U","v":0.505,"hi":0.53,"s":1},{"m":"GLM","c":"N","v":0.6,"hi":0.63,"s":1},{"m":"TRL","c":"U","v":0.36,"hi":0.38,"s":0},{"m":"TRL","c":"N","v":0.34,"hi":0.365,"s":0},{"m":"EDC","c":"U","v":0.12,"hi":0.133,"s":0},{"m":"EDC","c":"N","v":0.097,"hi":0.118,"s":0},{"m":"FCU","c":"U","v":0.39,"hi":0.403,"s":0},{"m":"FCU","c":"N","v":0.365,"hi":0.39,"s":0}]},
"layer":[
{"mark":{"type":"bar","stroke":"#222","strokeWidth":0.7},"encoding":{
"x":{"field":"m","type":"nominal","scale":{"domain":["SO","MG","LG"," ","BFA","TA","SAM","IP","RF","BFP₁","BFP₂","AF","GLM","TRL","EDC","FCU"],"paddingInner":0.16,"paddingOuter":0.603,"align":0.084},"axis":{"title":null,"labelAngle":0,"labelFontSize":7.5,"labelPadding":2,"tickSize":2,"tickBand":"extent","labelOverlap":false}},
"xOffset":{"field":"c","type":"nominal","scale":{"domain":["U","N"],"paddingInner":0.08}},
"y":{"field":"v","type":"quantitative","scale":{"domain":[0,0.6],"nice":false},"axis":{"values":[0,0.1,0.2,0.3,0.4,0.5,0.6],"format":"~g","labelFontSize":8,"tickSize":2,"labelOverlap":false,"title":"Burst Duration, s","titleX":-25,"titleY":23,"titleAngle":270,"titleBaseline":"middle","titleAlign":"center","titleFontSize":13}},
"fill":{"field":"c","type":"nominal","scale":{"domain":["U","N"],"range":["#111111","#bdbdbd"]},"legend":{"orient":"none","legendX":85,"legendY":418,"direction":"horizontal","title":null,"symbolType":"M-1,-0.13H1V0.13H-1Z","symbolSize":1936,"symbolStrokeColor":"#222","symbolStrokeWidth":0.8,"labelFontSize":15,"labelColor":"black","labelOffset":12,"columnPadding":52,"labelLimit":300,"labelExpr":"datum.value == 'U' ? 'Unconstrained walking' : 'Narrow path walking'"}}}},
{"mark":{"type":"rule","color":"#333","strokeWidth":0.8},"encoding":{"x":{"field":"m","type":"nominal","axis":null},"xOffset":{"field":"c","type":"nominal"},"y":{"field":"v","type":"quantitative","axis":null},"y2":{"field":"hi"}}},
{"mark":{"type":"point","shape":"stroke","size":20,"color":"#333","strokeWidth":0.8,"opacity":1},"encoding":{"x":{"field":"m","type":"nominal","axis":null},"xOffset":{"field":"c","type":"nominal"},"y":{"field":"hi","type":"quantitative","axis":null}}},
{"transform":[{"filter":"datum.s == 1 && datum.c == 'U' && datum.m != 'GLM'"}],"mark":{"type":"point","shape":"M0,-1L0.2245,-0.309L0.951,-0.309L0.363,0.118L0.588,0.809L0,0.382L-0.588,0.809L-0.363,0.118L-0.951,-0.309L-0.2245,-0.309Z","size":60,"filled":true,"fill":"#c8c8c8","stroke":"#888","strokeWidth":0.7,"opacity":1},"encoding":{"x":{"field":"m","type":"nominal","axis":null},"y":{"datum":0.624,"type":"quantitative","axis":null}}},
{"transform":[{"filter":"datum.s == 1 && datum.c == 'U' && datum.m == 'GLM'"}],"mark":{"type":"point","shape":"M0,-1L0.2245,-0.309L0.951,-0.309L0.363,0.118L0.588,0.809L0,0.382L-0.588,0.809L-0.363,0.118L-0.951,-0.309L-0.2245,-0.309Z","size":60,"filled":true,"fill":"#c8c8c8","stroke":"#888","strokeWidth":0.7,"opacity":1},"encoding":{"x":{"field":"m","type":"nominal","axis":null},"y":{"datum":0.72,"type":"quantitative","axis":null}}}
]}
]}
]
}
